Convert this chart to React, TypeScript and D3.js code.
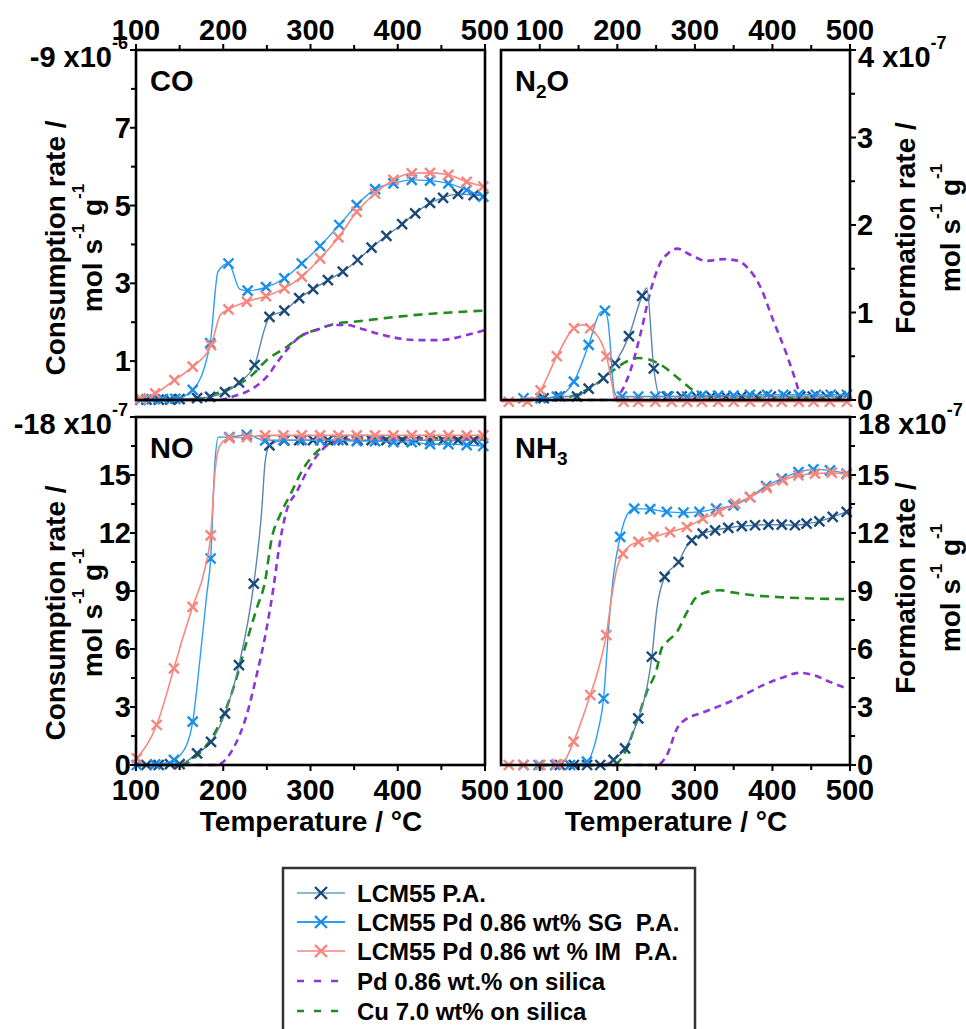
import React from 'react';
import * as d3 from 'd3';

// ---- data (temperature in °C, rate in units of the axis multiplier) ----
// third element = 1 means a marker is drawn at that point
const xTicksMajor = [100, 200, 300, 400, 500];
const xTicksMinor = [150, 250, 350, 450];

const coLcm = [[100, 0], [112, 0.01, 1], [126, 0.01, 1], [139, 0.01, 1], [150, 0.02, 1], [170, 0.05, 1], [185, 0.08, 1], [202, 0.2, 1], [218, 0.45, 1], [236, 0.9, 1], [247, 1.8], [253, 2.14, 1], [270, 2.3, 1], [287, 2.62, 1], [303, 2.85, 1], [320, 3.08, 1], [337, 3.3, 1], [354, 3.6, 1], [370, 3.92, 1], [387, 4.22, 1], [405, 4.52, 1], [420, 4.8, 1], [437, 5.07, 1], [452, 5.2, 1], [469, 5.3, 1], [487, 5.27, 1], [500, 5.25]];
const coSg = [[100, 0], [105, 0, 1], [118, 0.02, 1], [131, 0.02, 1], [145, 0.03, 1], [165, 0.26, 1], [185, 1.46, 1], [194, 3.3], [206, 3.51, 1], [219, 2.85], [228, 2.81, 1], [249, 2.9, 1], [270, 3.13, 1], [290, 3.51, 1], [311, 3.96, 1], [333, 4.5, 1], [353, 5.01, 1], [374, 5.42, 1], [395, 5.57, 1], [416, 5.66, 1], [437, 5.64, 1], [458, 5.57, 1], [479, 5.4, 1], [498, 5.23, 1]];
const coIm = [[100, 0.02], [105, 0.04, 1], [122, 0.17, 1], [144, 0.51, 1], [165, 0.86, 1], [186, 1.41, 1], [197, 2.2], [206, 2.33, 1], [227, 2.53, 1], [249, 2.67, 1], [270, 2.87, 1], [290, 3.17, 1], [311, 3.64, 1], [332, 4.18, 1], [353, 4.84, 1], [374, 5.31, 1], [395, 5.66, 1], [416, 5.83, 1], [437, 5.84, 1], [458, 5.79, 1], [479, 5.61, 1], [498, 5.49, 1]];
const coPd = [[100, 0], [196, 0], [211, 0.09], [234, 0.3], [250, 0.6], [261, 0.94], [273, 1.29], [288, 1.63], [307, 1.8], [326, 1.93], [341, 1.93], [357, 1.84], [383, 1.67], [422, 1.54], [448, 1.54], [479, 1.67], [500, 1.8]];
const coCu = [[100, 0], [173, 0.02], [192, 0.17], [212, 0.34], [231, 0.6], [250, 1.03], [273, 1.37], [288, 1.63], [311, 1.84], [330, 1.97], [349, 2.01], [383, 2.1], [422, 2.19], [460, 2.25], [500, 2.3]];

const n2oLcm = [[95, 0.02], [105, 0.02, 1], [126, 0.04, 1], [148, 0.04, 1], [163, 0.13, 1], [182, 0.25, 1], [197, 0.42, 1], [215, 0.73, 1], [232, 1.19, 1], [238, 1.28], [247, 0.36, 1], [255, 0.04], [264, 0.04, 1], [283, 0.04, 1], [302, 0.04, 1], [321, 0.04, 1], [340, 0.04, 1], [360, 0.04, 1], [379, 0.04, 1], [398, 0.04, 1], [417, 0.04, 1], [436, 0.04, 1], [452, 0.04, 1], [470, 0.04, 1], [488, 0.04, 1], [500, 0.04]];
const n2oSg = [[75, 0.02], [79, 0.02, 1], [101, 0.02, 1], [122, 0.04, 1], [144, 0.21, 1], [163, 0.63, 1], [178, 1.0], [184, 1.02, 1], [188, 0.9], [196, 0.1], [200, 0.04], [206, 0.04, 1], [227, 0.04, 1], [249, 0.04, 1], [266, 0.04, 1], [290, 0.04, 1], [309, 0.05, 1], [330, 0.05, 1], [350, 0.05, 1], [371, 0.06, 1], [393, 0.06, 1], [414, 0.06, 1], [434, 0.06, 1], [456, 0.06, 1], [475, 0.06, 1], [496, 0.06, 1]];
const n2oIm = [[50, -0.02], [60, -0.02, 1], [84, -0.02, 1], [92, 0], [101, 0.11, 1], [122, 0.5, 1], [144, 0.82, 1], [156, 0.86], [165, 0.82, 1], [186, 0.5, 1], [193, 0.19], [197, 0], [200, -0.02], [208, -0.02, 1], [227, -0.02, 1], [249, -0.02, 1], [270, -0.02, 1], [290, -0.02, 1], [309, -0.02, 1], [330, -0.02, 1], [350, -0.02, 1], [371, -0.02, 1], [393, -0.02, 1], [412, -0.02, 1], [434, -0.02, 1], [453, -0.02, 1], [474, -0.02, 1], [496, -0.02, 1]];
const n2oPd = [[100, 0], [195, 0], [204, 0.08], [217, 0.34], [230, 0.76], [242, 1.22], [255, 1.56], [266, 1.68], [277, 1.73], [294, 1.66], [315, 1.59], [337, 1.61], [356, 1.59], [367, 1.52], [384, 1.3], [401, 0.91], [418, 0.53], [431, 0.19], [438, 0], [500, 0]];
const n2oCu = [[100, 0], [131, 0.02], [152, 0.08], [174, 0.19], [195, 0.34], [212, 0.44], [227, 0.48], [242, 0.46], [260, 0.38], [281, 0.23], [298, 0.11], [315, 0.04], [500, 0.02]];

const noLcm = [[100, 0.02], [112, 0, 1], [126, 0, 1], [139, 0.05, 1], [150, 0.05, 1], [170, 0.6, 1], [186, 1.2, 1], [202, 2.67, 1], [218, 5.17, 1], [235, 9.38, 1], [244, 13.1], [248, 15.67], [253, 16.53, 1], [270, 16.79, 1], [287, 16.8, 1], [303, 16.8, 1], [320, 16.8, 1], [337, 16.8, 1], [354, 16.8, 1], [370, 16.8, 1], [387, 16.8, 1], [405, 16.8, 1], [420, 16.8, 1], [437, 16.8, 1], [452, 16.8, 1], [469, 16.8, 1], [487, 16.8, 1], [500, 16.8]];
const noSg = [[101, 0, 1], [122, 0.03, 1], [143.5, 0.26, 1], [158, 1.03], [165, 2.24, 1], [173, 5.34], [181, 8.78], [185.6, 10.68, 1], [190.5, 15.67], [194.4, 16.96], [207, 16.96, 1], [227, 17.08, 1], [248, 16.79, 1], [269, 16.8, 1], [290, 16.8, 1], [311, 16.8, 1], [332, 16.8, 1], [353, 16.75, 1], [374, 16.75, 1], [395, 16.7, 1], [416, 16.7, 1], [437, 16.6, 1], [458, 16.6, 1], [479, 16.55, 1], [498, 16.5, 1]];
const noIm = [[101, 0.34, 1], [123.7, 2.07, 1], [143.5, 5.0, 1], [152.3, 6.37], [164.9, 8.18, 1], [179, 10.16], [185.6, 11.88, 1], [190.5, 15.15], [196.3, 16.53], [207, 16.91, 1], [227, 16.96, 1], [248, 17.05, 1], [269, 17.05, 1], [290, 17.05, 1], [311, 17.05, 1], [332, 17.05, 1], [353, 17.05, 1], [374, 17.05, 1], [395, 17.05, 1], [416, 17.05, 1], [437, 17.05, 1], [458, 17.05, 1], [479, 17.05, 1], [498, 17.05, 1]];
const noPd = [[100, 0], [192, 0], [211.5, 0.86], [226.8, 2.58], [238.3, 4.65], [249.7, 7.06], [257.4, 9.13], [265, 11.54], [272.7, 13.17], [284.1, 14.12], [295.6, 15.15], [310.9, 16.19], [326, 16.7], [364, 16.88], [500, 16.88]];
const noCu = [[100, 0], [150, 0], [166, 0.34], [181, 1.03], [196, 2.15], [211.5, 3.96], [226.8, 6.37], [238.3, 8.09], [247.8, 9.47], [255.5, 11.71], [265, 12.92], [276.5, 13.95], [291.8, 15.33], [307, 16.19], [326, 16.7], [345, 16.88], [500, 16.9]];

const nh3Lcm = [[110, 0], [126, 0, 1], [144, 0, 1], [161, 0, 1], [178, 0, 1], [195, 0.26, 1], [210, 0.86, 1], [227, 2.41, 1], [238, 3.96], [244.5, 5.6, 1], [251, 8.09], [261, 9.73, 1], [270, 10.16], [279, 10.5, 1], [287.5, 11.19], [296, 11.62, 1], [310, 11.97, 1], [326, 12.14, 1], [343, 12.26, 1], [360.5, 12.36, 1], [377.6, 12.4, 1], [394.8, 12.43, 1], [412, 12.43, 1], [429, 12.4, 1], [444, 12.48, 1], [460.5, 12.6, 1], [477.7, 12.83, 1], [495.7, 13.09, 1]];
const nh3Sg = [[60, 0], [79, 0, 1], [98.5, 0, 1], [120, 0, 1], [139, 0, 1], [160.8, 0.17, 1], [169.4, 0.86], [175.8, 1.89], [182.3, 3.44, 1], [188.7, 7.06], [195.1, 9.82], [203.7, 11.8, 1], [212.3, 12.92], [221.8, 13.26, 1], [242.4, 13.23, 1], [263.8, 13.09, 1], [285.3, 13.05, 1], [305.9, 13.09, 1], [327.4, 13.26, 1], [349.7, 13.43, 1], [371.2, 13.86, 1], [391.8, 14.43, 1], [412, 14.81, 1], [433.5, 15.15, 1], [452.8, 15.29, 1], [474.2, 15.24, 1], [495.7, 15.07, 1]];
const nh3Im = [[50, 0], [60, 0, 1], [79, 0, 1], [100.7, 0, 1], [122.1, 0.05, 1], [130.7, 0.17], [143.6, 1.21, 1], [165.1, 3.62, 1], [175.8, 4.99], [185.7, 6.72, 1], [193, 8.78], [199.4, 10.16], [207.2, 10.93, 1], [217, 11.37], [227.3, 11.54, 1], [246.7, 11.8, 1], [268.1, 12.05, 1], [289.6, 12.31, 1], [310.2, 12.74, 1], [330.4, 13.09, 1], [351.9, 13.52, 1], [371.2, 13.86, 1], [392.7, 14.33, 1], [413.3, 14.72, 1], [433.5, 14.98, 1], [454.9, 15.07, 1], [476.4, 15.12, 1], [495.7, 15.03, 1]];
const nh3Pd = [[100, 0], [251, 0], [264, 0.52], [277, 1.89], [290, 2.41], [307, 2.67], [324, 2.93], [345, 3.27], [367, 3.7], [388, 4.13], [410, 4.48], [436, 4.77], [453, 4.65], [474, 4.3], [496, 3.96]];
const nh3Cu = [[100, 0], [195, 0], [208, 0.52], [225, 2.24], [238, 3.79], [251, 4.99], [257, 6.03], [264, 6.37], [277, 6.89], [290, 7.92], [302.5, 8.7], [320, 8.99], [332.5, 9.04], [350, 8.92], [375.5, 8.78], [410, 8.68], [453, 8.61], [496, 8.58]];

const legendLabels = ['LCM55 P.A.', 'LCM55 Pd 0.86 wt% SG  P.A.', 'LCM55 Pd 0.86 wt % IM  P.A.', 'Pd 0.86 wt.% on silica', 'Cu 7.0 wt% on silica'];

// ---- styles ----
const FONT = '"Liberation Sans", Arial, sans-serif';
// index: 0 LCM55, 1 SG, 2 IM, 3 Pd/silica, 4 Cu/silica
const styles = [
  { line: '#5a86ad', legendLine: '#93b7d3', mark: '#1a4a7a', dash: null, width: 1.4 },
  { line: '#2a9df4', legendLine: '#2a9df4', mark: '#1a8ee8', dash: null, width: 1.4 },
  { line: '#f8877f', legendLine: '#f9a29b', mark: '#f6857c', dash: null, width: 1.6 },
  { line: '#8e35d6', legendLine: '#8e35d6', mark: null, dash: '7,5', width: 2.6 },
  { line: '#1f8c1f', legendLine: '#1f8c1f', mark: null, dash: '9,6', width: 2.6 },
];
const drawOrder = [4, 3, 0, 1, 2];

const panels = [
  { fx: [136, 485], fy: [50, 400], xd: [100, 500], yd: [0, 9], side: 'left', xSide: 'top',
    major: [1, 3, 5, 7], minor: [2, 4, 6, 8], mult: ['-9 x10', '-6'], label: [['CO', 0]],
    series: [coLcm, coSg, coIm, coPd, coCu] },
  { fx: [501, 850], fy: [50, 400], xd: [50, 500], yd: [0, 4], side: 'right', xSide: 'top',
    major: [0, 1, 2, 3], minor: [0.5, 1.5, 2.5, 3.5], mult: ['4 x10', '-7'], label: [['N', 0], ['2', 1], ['O', 0]],
    series: [n2oLcm, n2oSg, n2oIm, n2oPd, n2oCu] },
  { fx: [136, 485], fy: [417, 765], xd: [100, 500], yd: [0, 18], side: 'left', xSide: 'bottom',
    major: [0, 3, 6, 9, 12, 15], minor: [1.5, 4.5, 7.5, 10.5, 13.5, 16.5], mult: ['-18 x10', '-7'], label: [['NO', 0]],
    series: [noLcm, noSg, noIm, noPd, noCu] },
  { fx: [501, 850], fy: [417, 765], xd: [50, 500], yd: [0, 18], side: 'right', xSide: 'bottom',
    major: [0, 3, 6, 9, 12, 15], minor: [1.5, 4.5, 7.5, 10.5, 13.5, 16.5], mult: ['18 x10', '-7'], label: [['NH', 0], ['3', 1]],
    series: [nh3Lcm, nh3Sg, nh3Im, nh3Pd, nh3Cu] },
];

const Cross = ({ x, y, color, s = 5 }) => (
  <path d={`M${x - s},${y - s}L${x + s},${y + s}M${x - s},${y + s}L${x + s},${y - s}`} stroke={color} strokeWidth={2.4} fill="none" />
);

const Panel = ({ p }) => {
  const x = d3.scaleLinear().domain(p.xd).range(p.fx);
  const y = d3.scaleLinear().domain(p.yd).range([p.fy[1], p.fy[0]]);
  const line = d3.line().x((d) => x(d[0])).y((d) => y(d[1])).curve(d3.curveMonotoneX);
  const isLeft = p.side === 'left';
  const ax = isLeft ? p.fx[0] : p.fx[1];
  const dir = isLeft ? -1 : 1;
  const xy = p.xSide === 'top' ? p.fy[0] : p.fy[1];
  const xdir = p.xSide === 'top' ? -1 : 1;

  return (
    <g>
      {drawOrder.map((si) => {
        const data = p.series[si];
        const st = styles[si];
        return (
          <g key={si}>
            <path d={line(data)} fill="none" stroke={st.line} strokeWidth={st.width} strokeDasharray={st.dash || undefined} />
            {st.mark && data.filter((d) => d[2]).map((d, i) => <Cross key={i} x={x(d[0])} y={y(d[1])} color={st.mark} />)}
          </g>
        );
      })}
      <rect x={p.fx[0]} y={p.fy[0]} width={p.fx[1] - p.fx[0]} height={p.fy[1] - p.fy[0]} fill="none" stroke="#000" strokeWidth={2.6} />
      {/* x ticks */}
      {xTicksMajor.map((t) => (
        <g key={'xm' + t}>
          <line x1={x(t)} x2={x(t)} y1={xy} y2={xy + xdir * 6} stroke="#000" strokeWidth={2} />
          <text x={x(t)} y={p.xSide === 'top' ? 40 : 800} textAnchor="middle" fontSize={29} fontWeight="bold" fontFamily={FONT}>{t}</text>
        </g>
      ))}
      {xTicksMinor.map((t) => (
        <line key={'xn' + t} x1={x(t)} x2={x(t)} y1={xy} y2={xy + xdir * 5} stroke="#000" strokeWidth={2} />
      ))}
      {/* y ticks */}
      {p.major.map((t) => (
        <g key={'ym' + t}>
          <line x1={ax} x2={ax + dir * 6} y1={y(t)} y2={y(t)} stroke="#000" strokeWidth={2} />
          <text x={isLeft ? ax - 5 : ax + 7} y={y(t) + 10} textAnchor={isLeft ? 'end' : 'start'} fontSize={29} fontWeight="bold" fontFamily={FONT}>{t}</text>
        </g>
      ))}
      {p.minor.map((t) => (
        <line key={'yn' + t} x1={ax} x2={ax + dir * 5} y1={y(t)} y2={y(t)} stroke="#000" strokeWidth={2} />
      ))}
      <line x1={ax} x2={ax + dir * 6} y1={p.fy[0]} y2={p.fy[0]} stroke="#000" strokeWidth={2} />
      {/* axis multiplier at the top of the y axis */}
      <text x={isLeft ? 128 : 858} y={p.fy[0] + 17} textAnchor={isLeft ? 'end' : 'start'} fontSize={29} fontWeight="bold" fontFamily={FONT}>
        {p.mult[0]}
        <tspan dy={-18} fontSize={18}>{p.mult[1]}</tspan>
      </text>
      {/* panel label */}
      <text x={p.fx[0] + 14} y={p.fy[0] + 41} fontSize={29} fontWeight="bold" fontFamily={FONT}>
        {p.label.map((l, i) =>
          l[1] ? <tspan key={i} fontSize={19} dy={7}>{l[0]}</tspan> : <tspan key={i} dy={i > 0 ? -7 : 0}>{l[0]}</tspan>
        )}
      </text>
    </g>
  );
};

const YTitle = ({ x1, x2, cy, first }) => (
  <g fontSize={28} fontWeight="bold" fontFamily={FONT}>
    <text transform={`translate(${x1},${cy}) rotate(-90)`} textAnchor="middle">{first}</text>
    <text transform={`translate(${x2},${cy}) rotate(-90)`} textAnchor="middle">
      mol s<tspan dy={-18} fontSize={17}>-1</tspan><tspan dy={18}> g</tspan><tspan dy={-18} fontSize={17}>-1</tspan>
    </text>
  </g>
);

export default function App() {
  const rows = [893, 922, 951, 981, 1011];
  return (
    <svg width={966} height={1029} style={{ position: 'absolute', left: 0, top: 0, background: '#fff' }}>
      {panels.map((p, i) => <Panel key={i} p={p} />)}

      <YTitle x1={65} x2={102} cy={248} first="Consumption rate /" />
      <YTitle x1={65} x2={102} cy={613} first="Consumption rate /" />
      <YTitle x1={915} x2={960} cy={228} first="Formation rate /" />
      <YTitle x1={915} x2={960} cy={588} first="Formation rate /" />

      <text x={311} y={831} textAnchor="middle" fontSize={28} fontWeight="bold" fontFamily={FONT}>Temperature / °C</text>
      <text x={676} y={831} textAnchor="middle" fontSize={28} fontWeight="bold" fontFamily={FONT}>Temperature / °C</text>

      {/* legend */}
      <rect x={283} y={868} width={412} height={200} fill="#fff" stroke="#333" strokeWidth={2.5} />
      {legendLabels.map((lab, i) => {
        const st = styles[i];
        const ry = rows[i];
        return (
          <g key={lab}>
            <line x1={297} x2={345} y1={ry} y2={ry} stroke={st.legendLine} strokeWidth={st.dash ? 2.6 : 1.8} strokeDasharray={st.dash ? '7,10' : undefined} />
            {st.mark && <Cross x={321} y={ry} color={st.mark} s={6} />}
            <text x={357} y={ry + 9} fontSize={24} fontWeight="bold" fontFamily={FONT} style={{ whiteSpace: 'pre' }}>{lab}</text>
          </g>
        );
      })}
    </svg>
  );
}
